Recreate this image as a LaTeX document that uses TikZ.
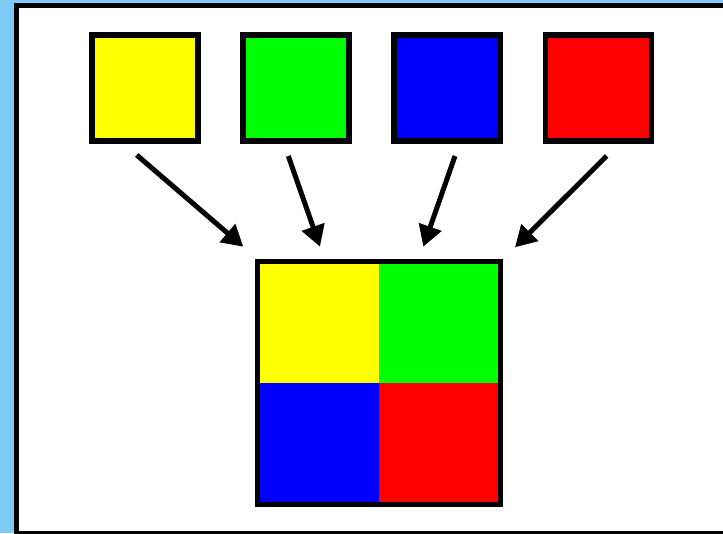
\documentclass[tikz,border=0pt]{standalone}
\usetikzlibrary{arrows.meta}
\definecolor{skyblue}{RGB}{125,203,247}
\definecolor{pureyellow}{RGB}{255,255,0}
\definecolor{puregreen}{RGB}{0,255,0}
\definecolor{pureblue}{RGB}{0,0,255}
\definecolor{purered}{RGB}{255,0,0}
\begin{document}
\begin{tikzpicture}[x=1pt,y=-1pt,
  tile/.style={draw=black, line width=5.5pt, minimum size=106pt, inner sep=0pt, outer sep=0pt},
  conn/.style={line width=5pt, -{Triangle[length=21pt,width=23pt]}, shorten >=0pt}
]
\useasboundingbox (0,0) rectangle (723,533);
\fill[skyblue] (0,0) rectangle (723,533);
\draw[fill=white, line width=5pt] (16.5,5.2) rectangle (735,533.5);

\node[tile, fill=pureyellow] (y) at (145,87.8) {};
\node[tile, fill=puregreen] (g) at (296,87.8) {};
\node[tile, fill=pureblue] (b) at (447,87.8) {};
\node[tile, fill=purered] (r) at (598.3,87.8) {};

\node[minimum size=243pt, inner sep=0pt, outer sep=0pt] (big) at (379,383) {};
\fill[pureyellow] (big.north west) rectangle (big.center);
\fill[puregreen] (big.north east) rectangle (big.center);
\fill[pureblue] (big.south west) rectangle (big.center);
\fill[purered] (big.south east) rectangle (big.center);
\draw[line width=5.5pt] (big.north west) rectangle (big.south east);

\coordinate (ys) at (136.7,155);
\coordinate (ye) at (243.3,246.7);
\coordinate (gs) at (288.3,156);
\coordinate (ge) at (320,246.7);
\coordinate (bs) at (455,156);
\coordinate (be) at (423.3,246.7);
\coordinate (rs) at (606.7,156);
\coordinate (re) at (515,247.3);
\draw[conn] (ys) -- (ye);
\draw[conn] (gs) -- (ge);
\draw[conn] (bs) -- (be);
\draw[conn] (rs) -- (re);
\end{tikzpicture}
\end{document}
